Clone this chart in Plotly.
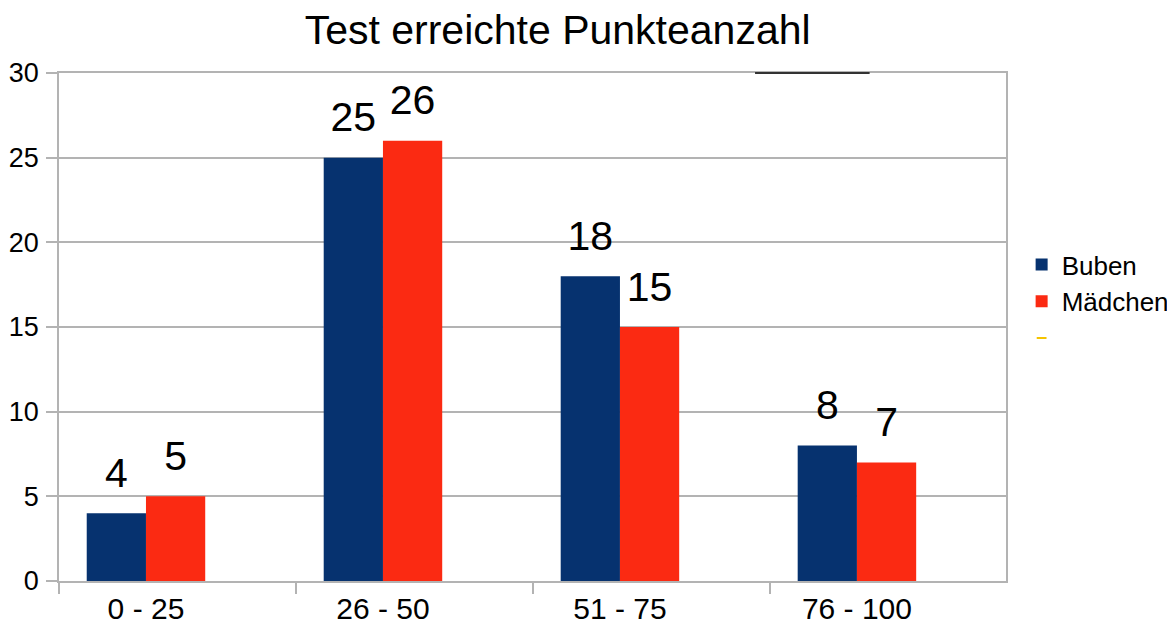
import plotly.graph_objects as go

categories = ["0 - 25", "26 - 50", "51 - 75", "76 - 100"]
buben = [4, 25, 18, 8]
maedchen = [5, 26, 15, 7]
y_ticks = [0, 5, 10, 15, 20, 25, 30]

xpos = list(range(len(categories)))
FONT = "Liberation Sans, Arial, sans-serif"
BARGAP = 0.5
BAR_W = (1 - BARGAP) / 2  # width of one bar in category units

fig = go.Figure()
fig.add_trace(go.Bar(x=xpos, y=buben, name="Buben", marker=dict(color="#06326f", line=dict(width=0))))
fig.add_trace(go.Bar(x=xpos, y=maedchen, name="Mädchen", marker=dict(color="#fb2a12", line=dict(width=0))))
fig.add_trace(go.Scatter(x=[None], y=[None], mode="markers", name=" ",
                         marker=dict(symbol="line-ew", size=7, line=dict(color="#f5c400", width=2))))

# value labels above the bars
for vals, off in ((buben, -BAR_W / 2), (maedchen, BAR_W / 2)):
    fig.add_trace(go.Scatter(x=[x + off for x in xpos], y=vals, mode="markers+text", text=vals,
                             textposition="top center", textfont=dict(size=41, color="black", family=FONT),
                             marker=dict(size=24, color="rgba(0,0,0,0)"), showlegend=False,
                             cliponaxis=False, hoverinfo="skip"))

fig.update_layout(
    width=1167, height=617,
    paper_bgcolor="white", plot_bgcolor="white",
    margin=dict(l=51, r=169, t=65, b=44, autoexpand=False),
    title=dict(text="Test erreichte Punkteanzahl", x=0.471, xanchor="center", y=0.965, yanchor="middle",
               font=dict(family=FONT, size=41, color="black")),
    barmode="group", bargap=BARGAP, bargroupgap=0,
    font=dict(family=FONT, color="black"),
    legend=dict(x=1.0165, xanchor="left", y=0.55, yanchor="middle", font=dict(size=26),
                bgcolor="rgba(0,0,0,0)", itemwidth=30, tracegroupgap=0),
    showlegend=True,
)
fig.update_xaxes(
    range=[-0.367, 3.629], tickvals=xpos, ticktext=categories, ticks="",
    tickfont=dict(size=30), showgrid=False, zeroline=False, automargin=False,
    showline=True, linecolor="#b3b3b3", linewidth=1.5, mirror=True,
    minor=dict(tick0=-0.367, dtick=1, ticks="outside", ticklen=11, tickcolor="#b3b3b3", tickwidth=1.5, showgrid=False),
)
fig.update_yaxes(
    range=[0, 30], tickvals=y_ticks, ticks="outside", ticklen=11, tickcolor="#b3b3b3", tickwidth=1.5,
    tickfont=dict(size=27), showgrid=True, gridcolor="#b3b3b3", gridwidth=1.5, zeroline=False, automargin=False,
    showline=True, linecolor="#b3b3b3", linewidth=1.5, mirror=True, ticklabelstandoff=2,
)
fig.add_shape(type="line", xref="paper", yref="paper", x0=0.735, x1=0.856, y0=1, y1=1,
              line=dict(color="#333333", width=2))

fig.write_html("out.html")
